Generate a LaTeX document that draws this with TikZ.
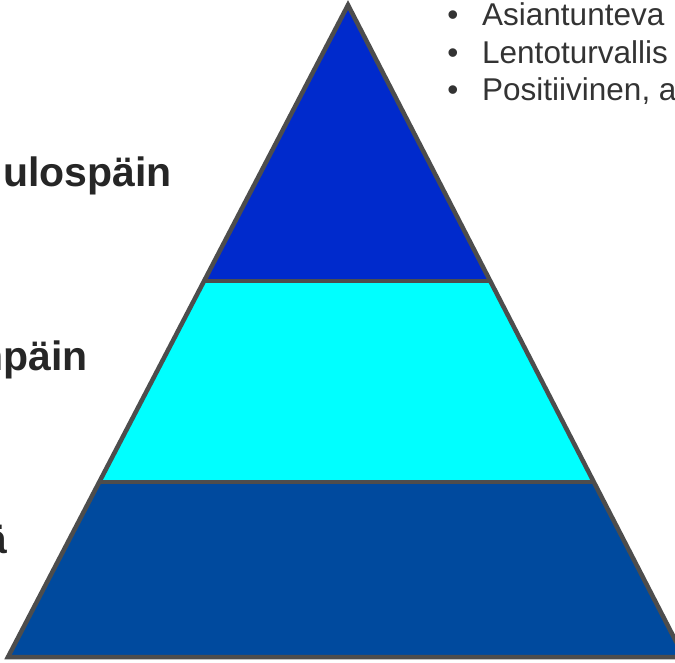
\documentclass[tikz,border=0pt]{standalone}
\usepackage{fontspec}
\setmainfont{Liberation Sans}
\begin{document}
\begin{tikzpicture}[x=1pt,y=-1pt,
  edge/.style={draw=edgegray,line width=4.5pt,line join=miter},
  bullettxt/.style={anchor=base west,inner sep=0pt,text=txtgray,font=\fontsize{31.5}{38}\selectfont},
  bulletdot/.style={anchor=base,inner sep=0pt,text=txtgray,font=\fontsize{31.5}{38}\selectfont},
  sidelabel/.style={anchor=base east,inner sep=0pt,text=lblgray,font=\fontsize{41}{48}\selectfont\bfseries}]
\definecolor{edgegray}{HTML}{4D4D4D}
\definecolor{txtgray}{HTML}{333333}
\definecolor{lblgray}{HTML}{262626}
\definecolor{topblue}{RGB}{0,42,204}
\definecolor{midcyan}{RGB}{0,255,255}
\definecolor{lowblue}{RGB}{0,74,158}
\useasboundingbox (0,0) rectangle (675,662);
\clip (0,0) rectangle (675,662);
% pyramid corner points
\coordinate (apex) at (348,5);
\coordinate (l1) at (204,281);
\coordinate (r1) at (490,281);
\coordinate (l2) at (99,482);
\coordinate (r2) at (594,482);
\coordinate (bl) at (8,657);
\coordinate (br) at (684,657);
% fills
\fill[topblue] (apex) -- (r1) -- (l1) -- cycle;
\fill[midcyan] (l1) -- (r1) -- (r2) -- (l2) -- cycle;
\fill[lowblue] (l2) -- (r2) -- (br) -- (bl) -- cycle;
% outlines
\draw[edge] (apex) -- (br) -- (bl) -- cycle;
\draw[edge] (l1) -- (r1);
\draw[edge] (l2) -- (r2);
% bullet list
\node[bulletdot] (b1) at (453,25) {•};
\node[bulletdot] (b2) at (453,63) {•};
\node[bulletdot] (b3) at (453,100) {•};
\node[bullettxt] (t1) at (482,25) {Asiantunteva};
\node[bullettxt] (t2) at (482,63) {Lentoturvallis};
\node[bullettxt] (t3) at (482,100) {Positiivinen, a};
% side labels
\node[sidelabel] (s1) at (172,186) {ulospäin};
\node[sidelabel] (s2) at (88,370) {npäin};
\node[sidelabel] (s3) at (8,553) {ä};
\end{tikzpicture}
\end{document}
